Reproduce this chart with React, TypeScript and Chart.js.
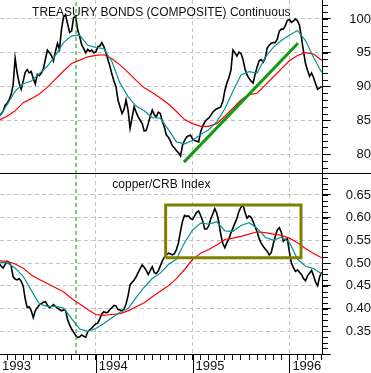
import React, { useEffect, useRef } from 'react';
import { Chart, registerables } from 'chart.js';

Chart.register(...registerables);

// ---- data (x in months since Jan 1993) ----
const PRICE_STEP = 0.25; // quarter-month samples
const MA_STEP = 1; // monthly samples

const bondPrice = [
  85.6, 85.9, 86.3, 87.2, 87.5, 88.0, 88.8, 90.2, 94.2, 92.0,
  90.5, 89.6, 90.8, 92.1, 92.5, 92.0, 92.2, 91.2, 90.4, 91.8,
  91.6, 92.0, 92.6, 94.0, 95.4, 95.0, 94.6, 93.8, 95.2, 96.4,
  95.5, 98.5, 100.3, 100.6, 99.3, 98.0, 98.2, 100.2, 100.4, 98.4,
  97.4, 96.2, 95.6, 95.0, 95.5, 95.2, 95.4, 95.0, 95.1, 95.9,
  96.0, 96.5, 95.9, 95.0, 94.0, 93.0, 91.8, 90.8, 90.0, 88.0,
  87.0, 86.0, 86.6, 88.0, 86.5, 83.8, 85.4, 87.0, 86.2, 85.5,
  85.0, 84.5, 83.4, 83.5, 84.5, 85.6, 86.5, 85.8, 85.5, 86.2,
  86.0, 84.8, 84.0, 82.8, 82.5, 81.9, 81.2, 80.9, 80.5, 80.2,
  79.7, 81.3, 82.0, 82.5, 82.7, 82.8, 82.2, 82.0, 81.9, 81.8,
  83.3, 84.1, 84.7, 85.1, 85.3, 85.7, 86.2, 86.5, 86.7, 86.8,
  87.0, 87.8, 89.4, 90.5, 91.3, 92.4, 95.4, 95.0, 94.5, 95.1,
  94.9, 94.0, 92.6, 91.7, 91.2, 90.8, 90.5, 91.8, 92.9, 93.8,
  94.0, 93.6, 94.2, 95.7, 96.1, 96.4, 96.5, 96.5, 97.0, 98.2,
  98.5, 98.5, 99.0, 99.8, 99.9, 99.5, 99.7, 100.0, 99.7, 99.1,
  97.2, 95.2, 93.4, 92.4, 91.5, 92.0, 91.3, 90.4, 89.6, 89.8,
  90.0,
];
const bondMaFast = [
  85.4, 87.3, 89.3, 90.4, 90.8, 91.9, 93.0, 94.6, 96.5, 97.5,
  97.6, 96.1, 95.8, 95.6, 93.7, 90.5, 88.5, 87.1, 86.4, 85.4,
  85.3, 83.6, 81.8, 81.5, 82.0, 82.9, 83.6, 84.8, 86.7, 89.3,
  91.7, 92.2, 92.0, 94.3, 95.8, 96.8, 97.6, 98.3, 96.8, 94.3, 92.1,
];
const bondMaSlow = [
  85.0, 85.6, 86.4, 87.6, 88.2, 88.9, 89.9, 91.1, 92.3, 93.4,
  93.9, 94.4, 94.6, 94.7, 94.1, 93.2, 92.1, 90.9, 89.8, 89.1,
  88.3, 87.4, 86.3, 85.1, 84.5, 84.1, 84.1, 84.5, 85.6, 86.8,
  88.0, 88.8, 89.0, 90.2, 91.4, 92.6, 93.8, 94.6, 95.0, 94.8, 93.9,
];
const copperPrice = [
  0.500, 0.494, 0.489, 0.497, 0.504, 0.500, 0.494, 0.470, 0.465, 0.463,
  0.466, 0.460, 0.450, 0.421, 0.402, 0.404, 0.395, 0.380, 0.395, 0.402,
  0.408, 0.411, 0.414, 0.415, 0.408, 0.402, 0.405, 0.409, 0.405, 0.401,
  0.398, 0.395, 0.397, 0.396, 0.376, 0.364, 0.355, 0.348, 0.341, 0.336,
  0.338, 0.342, 0.339, 0.337, 0.349, 0.353, 0.357, 0.362, 0.366, 0.368,
  0.378, 0.388, 0.393, 0.391, 0.392, 0.398, 0.402, 0.407, 0.406, 0.398,
  0.397, 0.395, 0.399, 0.410, 0.428, 0.452, 0.458, 0.463, 0.470, 0.479,
  0.488, 0.496, 0.491, 0.484, 0.475, 0.484, 0.492, 0.479, 0.477, 0.483,
  0.494, 0.505, 0.513, 0.518, 0.522, 0.520, 0.518, 0.521, 0.530, 0.545,
  0.570, 0.592, 0.605, 0.603, 0.604, 0.598, 0.596, 0.604, 0.612, 0.615,
  0.605, 0.593, 0.575, 0.575, 0.582, 0.597, 0.608, 0.620, 0.610, 0.590,
  0.563, 0.543, 0.534, 0.545, 0.553, 0.567, 0.577, 0.588, 0.599, 0.614,
  0.623, 0.628, 0.612, 0.599, 0.604, 0.601, 0.591, 0.580, 0.569, 0.554,
  0.544, 0.537, 0.531, 0.526, 0.518, 0.523, 0.542, 0.559, 0.573, 0.578,
  0.568, 0.548, 0.552, 0.553, 0.525, 0.500, 0.490, 0.482, 0.485, 0.480,
  0.475, 0.466, 0.461, 0.472, 0.478, 0.484, 0.472, 0.458, 0.450, 0.470,
  0.480,
];
const copperMaFast = [
  0.502, 0.501, 0.489, 0.471, 0.440, 0.410, 0.405, 0.405, 0.401, 0.378,
  0.355, 0.350, 0.356, 0.367, 0.380, 0.392, 0.400, 0.424, 0.447, 0.466,
  0.478, 0.497, 0.509, 0.545, 0.573, 0.588, 0.586, 0.591, 0.571, 0.570,
  0.583, 0.589, 0.577, 0.557, 0.550, 0.557, 0.546, 0.509, 0.493, 0.488, 0.476,
];
const copperMaSlow = [
  0.505, 0.504, 0.498, 0.489, 0.474, 0.464, 0.455, 0.446, 0.437, 0.422,
  0.410, 0.398, 0.387, 0.385, 0.387, 0.389, 0.395, 0.404, 0.413, 0.426,
  0.438, 0.450, 0.466, 0.486, 0.508, 0.522, 0.530, 0.540, 0.552, 0.555,
  0.559, 0.564, 0.569, 0.567, 0.564, 0.561, 0.555, 0.545, 0.532, 0.521, 0.512,
];

const yearLabels = ['1993', '1994', '1995', '1996'];
const yearMonths = [0, 12, 24, 36];
const bondTickValues = [80, 85, 90, 95, 100];
const copperTickValues = [0.3, 0.35, 0.4, 0.45, 0.5, 0.55, 0.6, 0.65];

const trendX = [22.93, 37.06];
const trendY = [78.8, 96.4];
const boxX = [20.66, 37.44];
const boxY = [0.512, 0.628];
const markerMonth = 9.55;

const topTitle = 'TREASURY BONDS (COMPOSITE) Continuous';
const bottomTitle = 'copper/CRB Index';

// ---- layout / style ----
const X_MIN = 0.124;
const X_MAX = 40.13;
const BOND_MIN = 77.04;
const BOND_MAX = 102.81;
const CU_MIN = 0.3;
const CU_MAX = 0.6962;
const AXIS_W = 48.3;
const FONT = "'Liberation Sans', Arial, sans-serif";
const GRID = '#c4c4c4';
const TEAL = '#0a9292';
const RED = '#ff0000';
const GREEN = '#139a13';
const OLIVE = '#808000';

Chart.defaults.font.family = FONT;

const pts = (vals: number[], step: number) => vals.map((v, i) => ({ x: i * step, y: v }));

const fitY = (s: any) => {
  s.width = AXIS_W;
  s.paddingTop = 0;
  s.paddingBottom = 0;
};

function decorPlugin(title: string, titleY: number, minorStep: number, separator: boolean, yearTicks: boolean) {
  return {
    id: 'decor',
    beforeDatasetsDraw(chart: any) {
      const { ctx, chartArea } = chart;
      ctx.save();
      ctx.font = `12px ${FONT}`;
      ctx.fillStyle = '#111';
      ctx.textAlign = 'center';
      ctx.textBaseline = 'alphabetic';
      ctx.fillText(title, (chartArea.left + chartArea.right) / 2, titleY);
      ctx.restore();
    },
    afterDraw(chart: any) {
      const { ctx } = chart;
      const y = chart.scales.y;
      ctx.save();
      ctx.strokeStyle = '#000';
      ctx.lineWidth = 1;
      const x0 = Math.round(y.left);
      for (let k = Math.ceil(y.min / minorStep - 1e-6); k * minorStep <= y.max + 1e-9; k++) {
        const p = Math.round(y.getPixelForValue(k * minorStep)) + 0.5;
        ctx.beginPath();
        ctx.moveTo(x0, p);
        ctx.lineTo(x0 + 5, p);
        ctx.stroke();
      }
      if (separator) {
        const yy = chart.chartArea.bottom - 0.5;
        ctx.beginPath();
        ctx.moveTo(0, yy);
        ctx.lineTo(chart.width, yy);
        ctx.stroke();
      }
      if (yearTicks) {
        const xs = chart.scales.x;
        yearMonths.forEach((m) => {
          const p = Math.round(xs.getPixelForValue(m)) + 0.5;
          ctx.beginPath();
          ctx.moveTo(p, xs.top);
          ctx.lineTo(p, xs.top + 19);
          ctx.stroke();
        });
      }
      ctx.restore();
    },
  };
}

function topConfig(): any {
  return {
    type: 'line',
    data: {
      datasets: [
        { data: [{ x: trendX[0], y: trendY[0] }, { x: trendX[1], y: trendY[1] }], borderColor: GREEN, borderWidth: 3 },
        { data: [{ x: markerMonth, y: BOND_MIN }, { x: markerMonth, y: BOND_MAX }], borderColor: '#0a8f0a', borderWidth: 1, borderDash: [4, 3] },
        { data: pts(bondMaFast, MA_STEP), borderColor: TEAL, borderWidth: 1.2 },
        { data: pts(bondMaSlow, MA_STEP), borderColor: RED, borderWidth: 1.2 },
        { data: pts(bondPrice, PRICE_STEP), borderColor: '#000', borderWidth: 1.6 },
      ],
    },
    options: {
      responsive: false,
      animation: false,
      devicePixelRatio: 1,
      layout: { padding: 0 },
      elements: { point: { radius: 0 }, line: { tension: 0 } },
      plugins: { legend: { display: false }, tooltip: { enabled: false }, title: { display: false } },
      scales: {
        x: {
          type: 'linear',
          min: X_MIN,
          max: X_MAX,
          afterBuildTicks: (s: any) => { s.ticks = yearMonths.slice(1).map((v) => ({ value: v })); },
          afterFit: (s: any) => { s.height = 0; s.paddingLeft = 0; s.paddingRight = 0; },
          ticks: { display: false },
          grid: { color: GRID, drawTicks: false, lineWidth: 1 },
          border: { display: false, dash: [4, 3] },
        },
        y: {
          position: 'right',
          min: BOND_MIN,
          max: BOND_MAX,
          afterBuildTicks: (s: any) => { s.ticks = bondTickValues.map((v) => ({ value: v })); },
          afterFit: fitY,
          ticks: { crossAlign: 'far', padding: 16, color: '#111', font: { size: 13 }, callback: (v: any) => String(v) },
          grid: { color: GRID, lineWidth: 1, tickColor: '#000', tickLength: 8 },
          border: { display: true, color: '#000', width: 1, dash: [4, 3] },
        },
      },
    },
    plugins: [decorPlugin(topTitle, 15.5, 1, true, false)],
  };
}

function bottomConfig(): any {
  return {
    type: 'line',
    data: {
      datasets: [
        {
          data: [
            { x: boxX[0], y: boxY[0] }, { x: boxX[0], y: boxY[1] }, { x: boxX[1], y: boxY[1] },
            { x: boxX[1], y: boxY[0] }, { x: boxX[0], y: boxY[0] },
          ],
          borderColor: OLIVE, borderWidth: 3, borderJoinStyle: 'miter',
        },
        { data: [{ x: markerMonth, y: CU_MIN }, { x: markerMonth, y: CU_MAX }], borderColor: '#0a8f0a', borderWidth: 1, borderDash: [4, 3] },
        { data: pts(copperMaFast, MA_STEP), borderColor: TEAL, borderWidth: 1.2 },
        { data: pts(copperMaSlow, MA_STEP), borderColor: RED, borderWidth: 1.2 },
        { data: pts(copperPrice, PRICE_STEP), borderColor: '#000', borderWidth: 1.6 },
      ],
    },
    options: {
      responsive: false,
      animation: false,
      devicePixelRatio: 1,
      layout: { padding: 0 },
      elements: { point: { radius: 0 }, line: { tension: 0 } },
      plugins: { legend: { display: false }, tooltip: { enabled: false }, title: { display: false } },
      scales: {
        x: {
          type: 'linear',
          min: X_MIN,
          max: X_MAX,
          afterBuildTicks: (s: any) => {
            const t = [];
            for (let m = 0; m <= 40; m++) t.push({ value: m });
            s.ticks = t;
          },
          afterFit: (s: any) => { s.height = 19; s.paddingLeft = 0; s.paddingRight = 0; },
          ticks: {
            autoSkip: false,
            maxRotation: 0,
            minRotation: 0,
            align: 'start',
            labelOffset: 3,
            padding: -1,
            color: '#111',
            font: { size: 13 },
            callback: (v: any) => (v % 12 === 0 ? yearLabels[v / 12] : ''),
          },
          grid: {
            color: (c: any) => (c.tick && c.tick.value % 12 === 0 && c.tick.value > 0 ? GRID : 'rgba(0,0,0,0)'),
            tickColor: '#000',
            tickLength: 6,
            lineWidth: 1,
          },
          border: { display: true, color: '#000', width: 1, dash: [4, 3] },
        },
        y: {
          position: 'right',
          min: CU_MIN,
          max: CU_MAX,
          afterBuildTicks: (s: any) => { s.ticks = copperTickValues.map((v) => ({ value: v })); },
          afterFit: fitY,
          ticks: {
            crossAlign: 'far',
            padding: 12.5,
            color: '#111',
            font: { size: 13 },
            callback: (v: any) => (v < 0.32 ? '' : Number(v).toFixed(2)),
          },
          grid: {
            color: (c: any) => (c.tick && c.tick.value < 0.32 ? 'rgba(0,0,0,0)' : GRID),
            lineWidth: 1,
            tickColor: '#000',
            tickLength: 8,
          },
          border: { display: true, color: '#000', width: 1, dash: [4, 3] },
        },
      },
    },
    plugins: [decorPlugin(bottomTitle, 14, 0.0125, false, true)],
  };
}

export default function App() {
  const topRef = useRef<HTMLCanvasElement>(null);
  const botRef = useRef<HTMLCanvasElement>(null);

  useEffect(() => {
    const c1 = new Chart(topRef.current as HTMLCanvasElement, topConfig());
    const c2 = new Chart(botRef.current as HTMLCanvasElement, bottomConfig());
    return () => {
      c1.destroy();
      c2.destroy();
    };
  }, []);

  return (
    <div style={{ position: 'absolute', left: 0, top: 0, width: 371, height: 373, background: '#fff', overflow: 'hidden' }}>
      <canvas ref={topRef} width={371} height={174} style={{ position: 'absolute', left: 0, top: 0, width: 371, height: 174 }} />
      <canvas ref={botRef} width={371} height={199} style={{ position: 'absolute', left: 0, top: 174, width: 371, height: 199 }} />
    </div>
  );
}
